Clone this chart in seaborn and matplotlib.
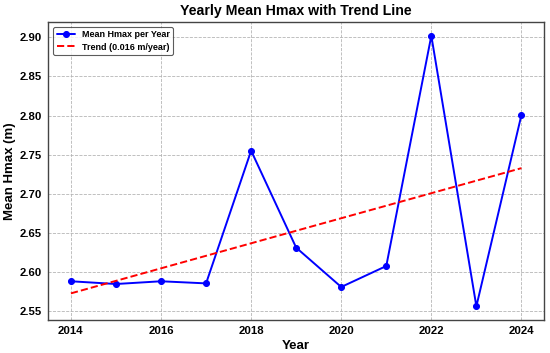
import numpy as np
import pandas as pd
import matplotlib
matplotlib.use("Agg")
import matplotlib.pyplot as plt
import seaborn as sns

years = [2014, 2015, 2016, 2017, 2018, 2019, 2020, 2021, 2022, 2023, 2024]
mean_hmax = [2.588, 2.5845, 2.588, 2.5853, 2.755, 2.631, 2.5807, 2.6075, 2.902, 2.556, 2.8007]

sns.set_theme(style="whitegrid")
plt.rcParams['font.family'] = ['Liberation Sans', 'DejaVu Sans']
plt.rcParams['font.weight'] = 'bold'
plt.rcParams['text.color'] = 'black'
plt.rcParams['axes.labelcolor'] = 'black'
plt.rcParams['xtick.color'] = 'black'
plt.rcParams['ytick.color'] = 'black'

df = pd.DataFrame({"Year": years, "Hmax": mean_hmax})
slope, intercept = np.polyfit(years, mean_hmax, 1)
df["Trend"] = slope * np.array(years) + intercept

fig, ax = plt.subplots(figsize=(5.5, 3.53), dpi=100)
fig.subplots_adjust(left=0.088, right=0.989, top=0.937, bottom=0.094)

sns.lineplot(data=df, x="Year", y="Hmax", ax=ax, color="blue", marker="o",
             markersize=4.3, markeredgecolor="blue", linewidth=1.4,
             label="Mean Hmax per Year")
sns.lineplot(data=df, x="Year", y="Trend", ax=ax, color="red", linestyle="--",
             linewidth=1.4, label=f"Trend ({slope:.3f} m/year)")

ax.set_title("Yearly Mean Hmax with Trend Line", fontsize=10.2, fontweight="bold", pad=5)
ax.set_xlabel("Year", fontsize=9.5, fontweight="bold", labelpad=3)
ax.set_ylabel("Mean Hmax (m)", fontsize=9.5, fontweight="bold", labelpad=3)
ax.tick_params(axis="both", labelsize=8.2, length=0)
ax.tick_params(axis="x", pad=4.2)
ax.tick_params(axis="y", pad=4.5)
for lab in ax.get_xticklabels() + ax.get_yticklabels():
    lab.set_fontweight("bold")

ax.yaxis.set_major_formatter(matplotlib.ticker.FormatStrFormatter("%.2f"))
ax.grid(True, linestyle="--", color="#b5b5b5", linewidth=0.6)
for s in ax.spines.values():
    s.set_color("#444444")
    s.set_linewidth(1.0)

leg = ax.legend(loc="upper left", fontsize=6.5, frameon=True, fancybox=True,
                handlelength=2.0, borderpad=0.4, labelspacing=0.35)
leg.get_frame().set_edgecolor("#333333")
leg.get_frame().set_linewidth(0.8)
for t in leg.get_texts():
    t.set_fontweight("bold")
    t.set_color("black")

fig.savefig("out.png", dpi=100)
